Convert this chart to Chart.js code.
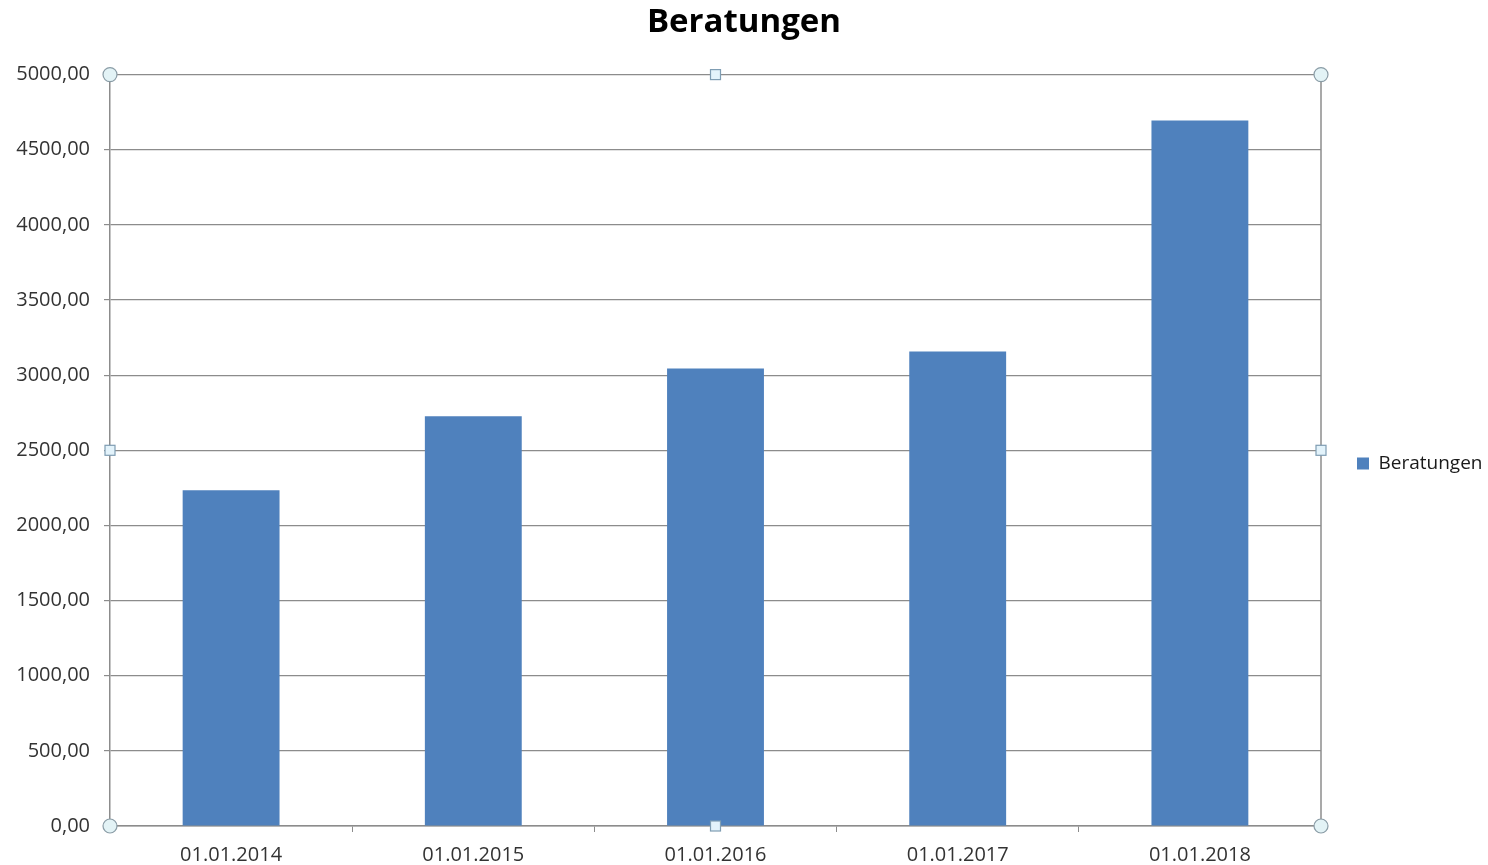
<!DOCTYPE html>
<html>
<head>
<meta charset="utf-8">
<script src="https://cdn.jsdelivr.net/npm/chart.js@4.4.1/dist/chart.umd.min.js"></script>
<style>
  html, body { margin: 0; padding: 0; background: #fff; }
  #wrap { width: 1488px; height: 865px; position: relative; }
</style>
</head>
<body>
<div id="wrap"><canvas id="chart"></canvas></div>
<script>
const categories = ["01.01.2014", "01.01.2015", "01.01.2016", "01.01.2017", "01.01.2018"];
const beratungen = [2234, 2726, 3045, 3158, 4694];
const yTicks = [0, 500, 1000, 1500, 2000, 2500, 3000, 3500, 4000, 4500, 5000];

const fontFamily = "'Open Sans', 'Noto Sans', sans-serif";
const LEGEND_WIDTH = 167;

// Rahmen rechts + Auswahl-Griffe (wie im Excel-Screenshot)
const framePlugin = {
    id: 'frame',
    beforeUpdate(chart) {
        // Legende auf feste Breite bringen
        const lg = chart.legend;
        if (lg && !lg._fixedWidth) {
            const origFit = lg.fit.bind(lg);
            lg.fit = function () {
                origFit();
                this.width = LEGEND_WIDTH;
            };
            lg._fixedWidth = true;
        }
    },
    afterDraw(chart) {
        const { ctx, chartArea } = chart;
        const { left, right, top, bottom } = chartArea;
        ctx.save();
        ctx.strokeStyle = '#8c8c8c';
        ctx.lineWidth = 1.5;
        ctx.beginPath();
        ctx.moveTo(right, top);
        ctx.lineTo(right, bottom);
        ctx.stroke();

        const cx = (left + right) / 2;
        const cy = (top + bottom) / 2;
        const circles = [[left, top], [right, top], [left, bottom], [right, bottom]];
        const squares = [[cx, top], [cx, bottom], [left, cy], [right, cy]];

        ctx.lineWidth = 1.2;
        circles.forEach(([x, y]) => {
            ctx.beginPath();
            ctx.arc(x, y, 7, 0, Math.PI * 2);
            ctx.fillStyle = '#e3f3f6';
            ctx.fill();
            ctx.strokeStyle = '#8a9ca6';
            ctx.stroke();
        });
        squares.forEach(([x, y]) => {
            ctx.fillStyle = '#e3f3fb';
            ctx.fillRect(x - 5, y - 5, 10, 10);
            ctx.strokeStyle = '#7f9db3';
            ctx.strokeRect(x - 5, y - 5, 10, 10);
        });
        ctx.restore();
    }
};

const ctx = document.getElementById('chart').getContext('2d');
new Chart(ctx, {
    type: 'bar',
    data: {
        labels: categories,
        datasets: [{
            label: 'Beratungen',
            data: beratungen,
            backgroundColor: '#4f81bd',
            borderWidth: 0,
            barPercentage: 0.4,
            categoryPercentage: 1.0
        }]
    },
    options: {
        responsive: true,
        maintainAspectRatio: false,
        animation: false,
        layout: {
            padding: { left: 0, right: 0, top: 0, bottom: 0 }
        },
        plugins: {
            title: {
                display: true,
                text: 'Beratungen',
                color: '#000',
                font: { family: fontFamily, size: 33, weight: 'bold' },
                padding: { top: 3, bottom: 32 }
            },
            legend: {
                position: 'right',
                title: {
                    display: true,
                    text: ' ',
                    font: { size: 10 },
                    padding: { top: 50, bottom: 0 }
                },
                labels: {
                    boxWidth: 12,
                    boxHeight: 12,
                    padding: 36,
                    color: '#1a1a1a',
                    font: { family: fontFamily, size: 19 }
                }
            },
            tooltip: { enabled: false }
        },
        scales: {
            x: {
                afterFit(axis) {
                    axis.height = 39;
                },
                grid: {
                    offset: true,
                    drawOnChartArea: false,
                    drawTicks: true,
                    tickLength: 6,
                    color: '#8c8c8c'
                },
                border: { display: true, color: '#8c8c8c', width: 1.5 },
                ticks: {
                    color: '#333',
                    font: { family: fontFamily, size: 20 },
                    padding: 11,
                    maxRotation: 0
                }
            },
            y: {
                min: 0,
                max: 5000,
                afterBuildTicks(axis) {
                    axis.ticks = yTicks.map(v => ({ value: v }));
                },
                afterFit(axis) {
                    axis.width = 110;
                },
                grid: {
                    color: '#8c8c8c',
                    lineWidth: 1.2,
                    tickLength: 6
                },
                border: { display: true, color: '#8c8c8c', width: 1.5 },
                ticks: {
                    color: '#333',
                    font: { family: fontFamily, size: 20 },
                    padding: 14,
                    callback: v => v.toFixed(2).replace('.', ',')
                }
            }
        }
    },
    plugins: [framePlugin]
});
</script>
</body>
</html>
